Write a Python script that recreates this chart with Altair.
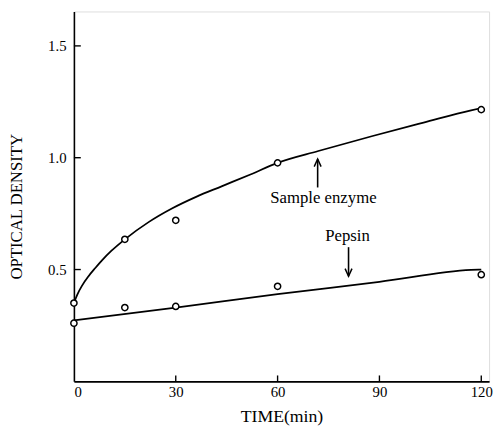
import altair as alt
import pandas as pd

# measured points
pt_time = [0, 15, 30, 60, 120]
sample_pts = [0.35, 0.635, 0.72, 0.977, 1.215]
pepsin_pts = [0.26, 0.33, 0.335, 0.425, 0.477]

# hand-drawn fitted curves
sample_curve_t = [0, 1, 2.4, 4.3, 6.3, 8.2, 11, 15, 22, 29, 36, 43.5, 52, 60, 72, 88, 103, 117, 120]
sample_curve_y = [0.35, 0.388, 0.428, 0.47, 0.507, 0.54, 0.583, 0.635, 0.712, 0.774, 0.825, 0.872,
                  0.925, 0.977, 1.03, 1.097, 1.157, 1.212, 1.222]
pepsin_curve_t = [0, 30, 60, 90, 117, 120]
pepsin_curve_y = [0.273, 0.33, 0.39, 0.445, 0.498, 0.50]

x_ticks = [0, 30, 60, 90, 120]
y_ticks = [0.5, 1.0, 1.5]

labels_text = ["Sample enzyme", "Pepsin"]
labels_t = [73.5, 80.6]
labels_y = [0.818, 0.651]

arrow_t = [71.8, 80.9]
arrow_from = [0.867, 0.60]
arrow_to = [0.994, 0.47]
arrow_dir = ["up", "down"]

FONT = "Liberation Serif"
W, H = 422, 376

xs = alt.Scale(domain=[0, 122.3], nice=False, zero=False)
ys = alt.Scale(domain=[0, 1.654], nice=False, zero=False)

pts = pd.DataFrame({
    "t": pt_time * 2,
    "od": sample_pts + pepsin_pts,
    "series": ["Sample enzyme"] * 5 + ["Pepsin"] * 5,
})
curves = pd.DataFrame({
    "t": sample_curve_t + pepsin_curve_t,
    "od": sample_curve_y + pepsin_curve_y,
    "series": ["Sample enzyme"] * len(sample_curve_t) + ["Pepsin"] * len(pepsin_curve_t),
})
lab = pd.DataFrame({"t": labels_t, "od": labels_y, "text": labels_text})
arr = pd.DataFrame({"t": arrow_t, "od": arrow_from, "od2": arrow_to, "dir": arrow_dir})
heads = pd.DataFrame({"t": arrow_t, "od": arrow_to, "dir": arrow_dir})

x_enc = alt.X("t:Q", scale=xs, axis=alt.Axis(
    values=x_ticks, ticks=False, grid=False, domainColor="black", domainWidth=1.6,
    labelFont=FONT, labelFontSize=15, labelColor="black", labelPadding=3,
    title="TIME(min)", titleFont=FONT, titleFontSize=18, titleFontWeight="normal",
    titleColor="black", titleY=36, titleBaseline="middle"))
y_enc = alt.Y("od:Q", scale=ys, axis=alt.Axis(
    values=y_ticks, format=".1f", ticks=False, grid=False, domainColor="black", domainWidth=1.6,
    labelFont=FONT, labelFontSize=15, labelColor="black", labelPadding=8,
    title="OPTICAL DENSITY", titleFont=FONT, titleFontSize=17, titleFontWeight="normal",
    titleColor="black", titleAngle=270, titleX=-58, titleY=198, titleAlign="center",
    titleBaseline="middle"))

lines = alt.Chart(curves).mark_line(color="black", strokeWidth=1.8, interpolate="monotone").encode(
    x=x_enc, y=y_enc, detail="series:N")

points = alt.Chart(pts).mark_point(shape="circle", size=40, filled=True, fill="white",
                                   stroke="black", strokeWidth=1.5, opacity=1).encode(
    x=alt.X("t:Q", scale=xs), y=alt.Y("od:Q", scale=ys))

texts = alt.Chart(lab).mark_text(font=FONT, fontSize=17, color="black").encode(
    x=alt.X("t:Q", scale=xs), y=alt.Y("od:Q", scale=ys), text="text:N")

shafts = alt.Chart(arr).mark_rule(color="black", strokeWidth=1.6).encode(
    x=alt.X("t:Q", scale=xs), y=alt.Y("od:Q", scale=ys), y2="od2:Q")

head_up = alt.Chart(heads).transform_filter(alt.datum.dir == "up").mark_point(
    shape="M-1,2.2L0,0L1,2.2", size=49, filled=False, stroke="black", strokeWidth=1.5, opacity=1).encode(
    x=alt.X("t:Q", scale=xs), y=alt.Y("od:Q", scale=ys))
head_down = alt.Chart(heads).transform_filter(alt.datum.dir == "down").mark_point(
    shape="M-1,-2.2L0,0L1,-2.2", size=49, filled=False, stroke="black", strokeWidth=1.5, opacity=1).encode(
    x=alt.X("t:Q", scale=xs), y=alt.Y("od:Q", scale=ys))

xt = alt.Chart(pd.DataFrame({"t": x_ticks[1:]})).mark_rule(color="black", strokeWidth=1.4).encode(
    x=alt.X("t:Q", scale=xs), y=alt.value(H), y2=alt.value(H - 6))
yt = alt.Chart(pd.DataFrame({"od": y_ticks})).mark_rule(color="black", strokeWidth=1.4).encode(
    y=alt.Y("od:Q", scale=ys), x=alt.value(0), x2=alt.value(7))

chart = alt.layer(lines, xt, yt, shafts, head_up, head_down, points, texts).properties(
    width=W, height=H,
    autosize=alt.AutoSizeParams(type="none"),
    padding={"left": 67, "top": 0, "right": 5, "bottom": 50},
).configure_view(stroke=None).configure(background="white")

chart.save("out.html", embed_options={"renderer": "svg", "actions": False})
